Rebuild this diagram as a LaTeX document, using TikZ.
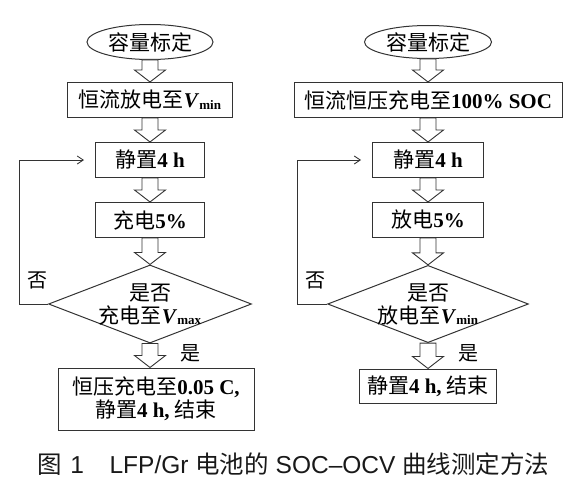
\documentclass[tikz,border=0pt]{standalone}
\usepackage{fontspec}
\setmainfont{Liberation Serif}
\newfontfamily\zhfont{Noto Sans CJK SC}
\newfontfamily\capfont{Liberation Sans}
\usetikzlibrary{shapes.geometric,arrows.meta,calc}

\newcommand{\zh}[1]{{\zhfont #1}}
\newcommand{\Vsub}[1]{\textbf{\textit{V}}\raisebox{-1.5pt}{\fontsize{13}{13}\selectfont\textbf{#1}}}
% hollow block arrow from one node down to the next
\newcommand{\fatarrow}[2]{%
  \draw[fat] let \p1=(#1.south), \p2=(#2.north) in
    (\x1-8pt,\y1) -- (\x1+8pt,\y1) -- (\x1+8pt,\y2+12pt) -- (\x1+15.5pt,\y2+12pt)
    -- (\x1,\y2) -- (\x1-15.5pt,\y2+12pt) -- (\x1-8pt,\y2+12pt) -- cycle;}

\tikzset{
  txt/.style={font=\fontsize{21}{23}\selectfont},
  box/.style={txt, draw=black!80, line width=1pt, minimum height=35pt, inner sep=0pt},
  start/.style={box, ellipse},
  ask/.style={txt, draw=black!80, line width=1pt, diamond, aspect=2.6, inner sep=-1pt, align=center},
  fat/.style={draw=black!80, line width=0.9pt, fill=white},
  back/.style={draw=black!80, line width=0.9pt, -{Straight Barb[length=6pt,width=8pt]}, shorten >=11pt},
  tag/.style={font=\zhfont\fontsize{20}{20}\selectfont}
}

\begin{document}
\begin{tikzpicture}[x=1pt,y=-1pt]
\useasboundingbox (0,0) rectangle (569,484);

% left column
\node[start, minimum width=126pt] (calL) at (150,42) {\zh{容量标定}};
\node[box, minimum width=165pt] (disL) at (150,100) {\zh{恒流放电至}\Vsub{min}};
\node[box, minimum width=109pt] (restL) at (150,160) {\zh{静置}\textbf{4 h}};
\node[box, minimum width=109pt] (stepL) at (150,220) {\zh{充电}\textbf{5\%}};
\node[ask] (askL) at (150,304) {\zh{是否}\\\zh{充电至}\Vsub{max}};
\node[box, minimum width=196pt, minimum height=62pt, align=center] (endL) at (156,399)
  {\zh{恒压充电至}\textbf{0.05 C,}\\\zh{静置}\textbf{4 h,} \zh{结束}};

\fatarrow{calL}{disL}
\fatarrow{disL}{restL}
\fatarrow{restL}{stepL}
\fatarrow{stepL}{askL}
\fatarrow{askL}{endL}
\draw[back] (askL.west) -- ++(-29,0) |- (restL.west);
\node[tag] (noL) at (37,280) {否};
\node[tag] (yesL) at (190,353) {是};

% right column
\node[start, minimum width=127pt, minimum height=33pt] (calR) at (428,42) {\zh{容量标定}};
\node[box, minimum width=268pt] (chgR) at (428,100) {\zh{恒流恒压充电至}\textbf{100\% SOC}};
\node[box, minimum width=111pt] (restR) at (428,160) {\zh{静置}\textbf{4 h}};
\node[box, minimum width=111pt] (stepR) at (428,220) {\zh{放电}\textbf{5\%}};
\node[ask] (askR) at (428,304) {\zh{是否}\\\zh{放电至}\Vsub{min}};
\node[box, minimum width=137pt, minimum height=34pt] (endR) at (428,386) {\zh{静置}\textbf{4 h,} \zh{结束}};

\fatarrow{calR}{chgR}
\fatarrow{chgR}{restR}
\fatarrow{restR}{stepR}
\fatarrow{stepR}{askR}
\fatarrow{askR}{endR}
\draw[back] (askR.west) -- ++(-30,0) |- (restR.west);
\node[tag] (noR) at (315,280) {否};
\node[tag] (yesR) at (468,353) {是};

% caption
\node[anchor=west, inner sep=0pt, text=black!90, font=\capfont\fontsize{24.5}{24.5}\selectfont] (cap) at (37,464)
  {\zh{图}\hspace{0.35em}1\hspace{1.05em}LFP/Gr \zh{电池的} SOC–OCV \zh{曲线测定方法}};
\end{tikzpicture}
\end{document}
